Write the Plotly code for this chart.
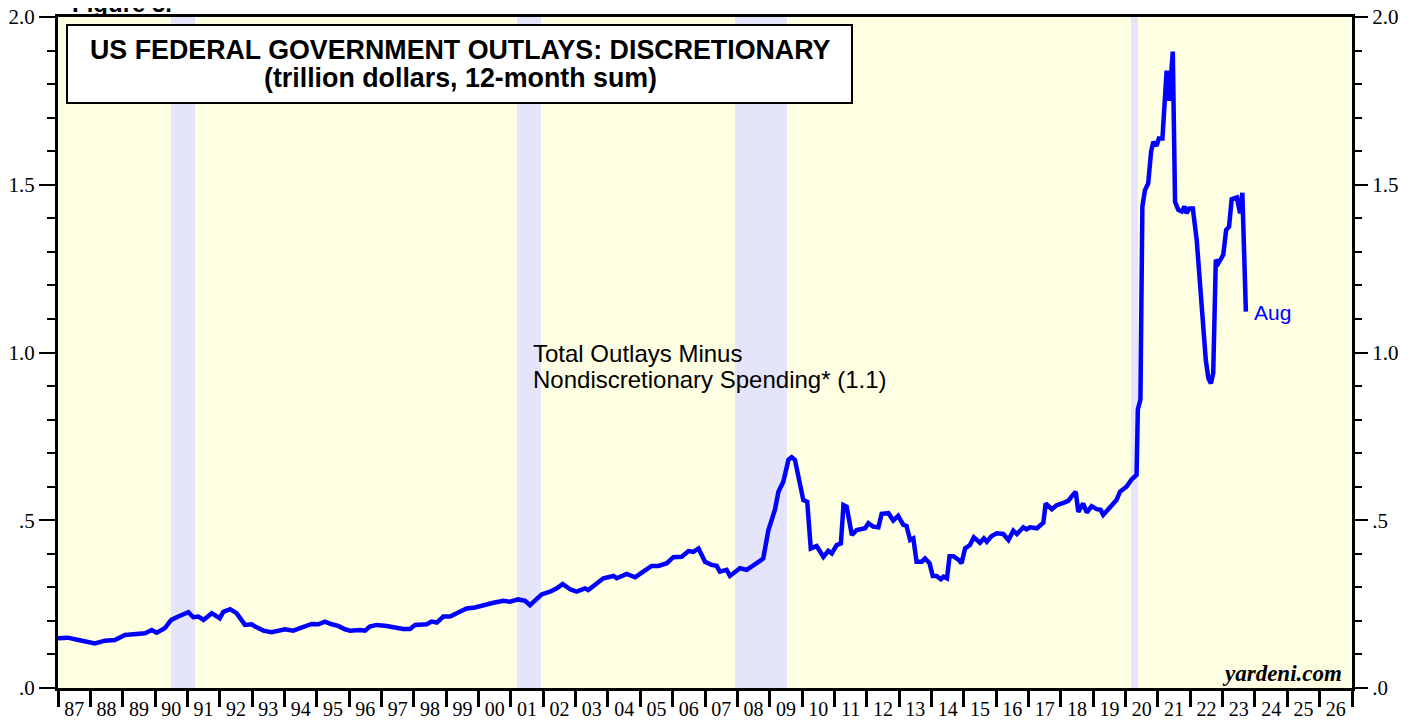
import plotly.graph_objects as go

# Decimal-year positions of the readings and 12-month sum of discretionary outlays (trillion $)
years = [
    1987.00, 1987.30, 1987.63, 1987.83, 1988.14, 1988.45, 1988.76, 1989.07, 1989.38, 1989.69,
    1989.90, 1990.05, 1990.30, 1990.50, 1990.72, 1991.03, 1991.18, 1991.34, 1991.50, 1991.75,
    1992.00, 1992.11, 1992.32, 1992.52, 1992.78, 1992.99, 1993.09, 1993.35, 1993.60, 1994.02,
    1994.27, 1994.53, 1994.84, 1995.05, 1995.25, 1995.46, 1995.66, 1995.87, 1996.03, 1996.34,
    1996.49, 1996.64, 1996.85, 1997.16, 1997.42, 1997.67, 1997.88, 1998.04, 1998.40, 1998.55,
    1998.71, 1998.91, 1999.12, 1999.38, 1999.63, 1999.89, 2000.15, 2000.46, 2000.77, 2000.97,
    2001.23, 2001.44, 2001.59, 2001.80, 2001.95, 2002.21, 2002.42, 2002.60, 2002.83, 2003.03,
    2003.29, 2003.39, 2003.65, 2003.86, 2004.17, 2004.27, 2004.58, 2004.84, 2005.09, 2005.35,
    2005.56, 2005.82, 2006.02, 2006.28, 2006.49, 2006.64, 2006.80, 2007.00, 2007.20, 2007.36,
    2007.46, 2007.67, 2007.77, 2008.08, 2008.29, 2008.49, 2008.70, 2008.80, 2008.96, 2009.16,
    2009.27, 2009.42, 2009.58, 2009.68, 2009.78, 2010.04, 2010.16, 2010.27, 2010.45, 2010.66,
    2010.81, 2010.92, 2011.07, 2011.20, 2011.28, 2011.38, 2011.54, 2011.69, 2011.95, 2012.05,
    2012.20, 2012.36, 2012.46, 2012.67, 2012.82, 2012.97, 2013.13, 2013.23, 2013.34, 2013.44,
    2013.54, 2013.70, 2013.80, 2013.94, 2014.04, 2014.16, 2014.29, 2014.37, 2014.48, 2014.56,
    2014.68, 2014.84, 2014.93, 2015.04, 2015.19, 2015.31, 2015.50, 2015.62, 2015.71, 2015.86,
    2016.02, 2016.22, 2016.38, 2016.53, 2016.64, 2016.84, 2016.94, 2017.05, 2017.26, 2017.46,
    2017.53, 2017.72, 2017.87, 2018.08, 2018.23, 2018.34, 2018.46, 2018.54, 2018.69, 2018.80,
    2018.95, 2019.11, 2019.23, 2019.31, 2019.47, 2019.57, 2019.72, 2019.83, 2020.03, 2020.19,
    2020.34, 2020.38, 2020.46, 2020.52, 2020.60, 2020.70, 2020.79, 2020.86, 2020.96, 2021.03,
    2021.14, 2021.27, 2021.35, 2021.46, 2021.53, 2021.63, 2021.74, 2021.82, 2021.89, 2021.97,
    2022.08, 2022.20, 2022.33, 2022.40, 2022.48, 2022.56, 2022.64, 2022.71, 2022.79, 2022.87,
    2023.02, 2023.11, 2023.20, 2023.28, 2023.44, 2023.54, 2023.61, 2023.72,
]
outlays = [
    0.148, 0.150, 0.143, 0.138, 0.133, 0.141, 0.143, 0.158, 0.160, 0.163,
    0.173, 0.165, 0.178, 0.203, 0.213, 0.226, 0.211, 0.213, 0.203, 0.223,
    0.208, 0.227, 0.235, 0.223, 0.188, 0.190, 0.183, 0.171, 0.166, 0.175,
    0.171, 0.180, 0.191, 0.190, 0.198, 0.190, 0.185, 0.175, 0.171, 0.173,
    0.171, 0.183, 0.188, 0.185, 0.180, 0.176, 0.176, 0.188, 0.190, 0.198,
    0.195, 0.213, 0.213, 0.227, 0.237, 0.240, 0.247, 0.254, 0.260, 0.257,
    0.264, 0.260, 0.247, 0.267, 0.279, 0.287, 0.297, 0.310, 0.294, 0.287,
    0.297, 0.292, 0.310, 0.327, 0.334, 0.327, 0.340, 0.330, 0.347, 0.364,
    0.364, 0.372, 0.390, 0.391, 0.408, 0.406, 0.416, 0.376, 0.367, 0.364,
    0.347, 0.352, 0.334, 0.357, 0.352, 0.367, 0.379, 0.386, 0.471, 0.531,
    0.585, 0.615, 0.680, 0.688, 0.680, 0.560, 0.555, 0.416, 0.423, 0.391,
    0.409, 0.401, 0.426, 0.431, 0.545, 0.540, 0.456, 0.471, 0.476, 0.491,
    0.481, 0.479, 0.519, 0.521, 0.499, 0.513, 0.486, 0.483, 0.441, 0.446,
    0.376, 0.376, 0.386, 0.372, 0.334, 0.334, 0.324, 0.332, 0.327, 0.393,
    0.393, 0.382, 0.372, 0.416, 0.426, 0.449, 0.433, 0.446, 0.436, 0.453,
    0.461, 0.459, 0.441, 0.469, 0.459, 0.479, 0.473, 0.479, 0.476, 0.493,
    0.550, 0.533, 0.545, 0.552, 0.558, 0.572, 0.585, 0.525, 0.550, 0.523,
    0.542, 0.533, 0.531, 0.516, 0.533, 0.545, 0.560, 0.585, 0.600, 0.622,
    0.635, 0.830, 0.860, 1.435, 1.484, 1.504, 1.599, 1.628, 1.616, 1.638,
    1.638, 1.840, 1.750, 1.897, 1.449, 1.425, 1.420, 1.435, 1.415, 1.429,
    1.429, 1.335, 1.176, 1.117, 0.978, 0.923, 0.908, 0.938, 1.276, 1.266,
    1.291, 1.365, 1.375, 1.457, 1.462, 1.415, 1.476, 1.122,
]

# Recession periods (decimal years)
rec_start = [1990.49, 2001.19, 2007.93, 2020.17]
rec_end = [1991.24, 2001.93, 2009.53, 2020.38]

year_ticks = list(range(1987, 2028))
year_label_pos = [y + 0.5 for y in range(1987, 2027)]
year_labels = [f"{y % 100:02d}" for y in range(1987, 2027)]

BLUE = "#0000FF"
PLOT_BG = "#FEFEE3"
REC_BG = "#E4E4FB"
SERIF = "Liberation Serif, Times New Roman, serif"
SANS = "Liberation Sans, Arial, sans-serif"

fig = go.Figure()
fig.add_trace(go.Scatter(x=years, y=outlays, mode="lines",
                         line=dict(color=BLUE, width=4.5), hoverinfo="skip", showlegend=False))
fig.add_trace(go.Scatter(x=[1987], y=[0], xaxis="x2", yaxis="y2", mode="markers",
                         marker=dict(opacity=0), hoverinfo="skip", showlegend=False))

for s, e in zip(rec_start, rec_end):
    fig.add_shape(type="rect", xref="x", yref="paper", x0=s, x1=e, y0=0, y1=1,
                  fillcolor=REC_BG, line=dict(width=0), layer="below")

# Title box
fig.add_shape(type="rect", xref="paper", yref="paper", x0=0.00696, x1=0.6136, y0=0.8718, y1=0.9881,
              fillcolor="white", line=dict(color="black", width=2), layer="above")

annotations = [
    dict(text="<b>US FEDERAL GOVERNMENT OUTLAYS: DISCRETIONARY</b>", xref="paper", yref="paper",
         x=0.3107, y=0.9508, xanchor="center", yanchor="middle", showarrow=False,
         font=dict(family=SANS, size=26.8, color="black")),
    dict(text="<b>(trillion dollars, 12-month sum)</b>", xref="paper", yref="paper",
         x=0.3107, y=0.9091, xanchor="center", yanchor="middle", showarrow=False,
         font=dict(family=SANS, size=26.8, color="black")),
    dict(text="Total Outlays Minus", xref="x", yref="y",
         x=2001.62, y=0.9985, xanchor="left", yanchor="middle", align="left", showarrow=False,
         font=dict(family=SANS, size=24, color="black")),
    dict(text="Nondiscretionary Spending* (1.1)", xref="x", yref="y",
         x=2001.62, y=0.921, xanchor="left", yanchor="middle", align="left", showarrow=False,
         font=dict(family=SANS, size=24, color="black")),
    dict(text="Aug", xref="x", yref="y", x=2023.90, y=1.118, xanchor="left", yanchor="middle",
         showarrow=False, font=dict(family=SANS, size=21, color=BLUE)),
    dict(text="<b><i>yardeni.com</i></b>", xref="paper", yref="paper", x=0.994, y=0.022,
         xanchor="right", yanchor="middle", showarrow=False,
         font=dict(family=SERIF, size=23, color="black")),
    dict(text="<b>Figure 5.</b>", xref="paper", yref="paper", x=0.009, y=1.02,
         xanchor="left", yanchor="middle", showarrow=False,
         font=dict(family=SANS, size=24, color="black")),
]

yaxis_common = dict(
    range=[0, 2], tickmode="linear", tick0=0, dtick=0.5, tickformat=".1f",
    labelalias={"0.0": ".0", "0.5": ".5"},
    ticks="outside", tickwidth=2, tickcolor="black",
    showgrid=False, zeroline=False, showline=True, linecolor="black", linewidth=3,
    tickfont=dict(family=SERIF, size=21, color="black"), fixedrange=True, automargin=False,
    ticklabeloverflow="allow",
)

# The page body has an 8px default margin; size and margins compensate so the
# plot area sits where the reference has it (x 58-1352, y 17-688 in the window).
fig.update_layout(
    width=1411, height=713,
    margin=dict(l=50, r=67, t=9, b=33, pad=0, autoexpand=False),
    paper_bgcolor="white", plot_bgcolor=PLOT_BG,
    showlegend=False,
    xaxis=dict(range=[1987, 2027], tickmode="array", tickvals=year_ticks, showticklabels=False,
               ticks="outside", ticklen=16, tickwidth=2.5, tickcolor="black",
               showgrid=False, zeroline=False, showline=True, mirror=True,
               linecolor="black", linewidth=2.5, fixedrange=True, automargin=False),
    xaxis2=dict(range=[1987, 2027], overlaying="x", anchor="y", side="bottom",
                tickmode="array", tickvals=year_label_pos, ticktext=year_labels,
                ticks="outside", ticklen=3, tickcolor="rgba(0,0,0,0)",
                showgrid=False, zeroline=False, showline=False,
                tickfont=dict(family=SERIF, size=20, color="black"), fixedrange=True,
                automargin=False, ticklabeloverflow="allow"),
    yaxis=dict(**yaxis_common, side="left", ticklen=16,
               minor=dict(dtick=0.1, tick0=0, ticks="outside", ticklen=8, tickwidth=2, tickcolor="black")),
    yaxis2=dict(**yaxis_common, side="right", overlaying="y", anchor="x", ticklen=13,
                minor=dict(dtick=0.1, tick0=0, ticks="outside", ticklen=7, tickwidth=2, tickcolor="black")),
    annotations=annotations,
)

fig.write_html("out.html")
